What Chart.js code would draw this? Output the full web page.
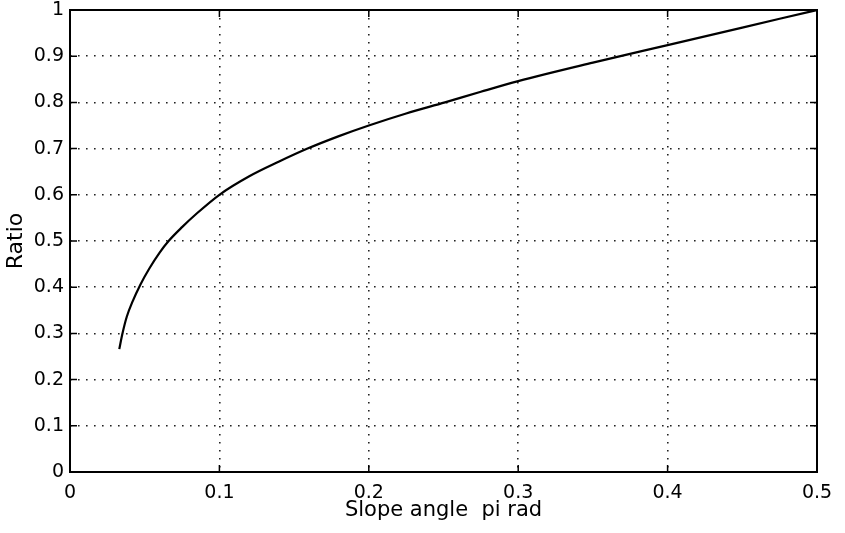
<!DOCTYPE html>
<html>
<head>
<meta charset="utf-8">
<script src="https://cdn.jsdelivr.net/npm/chart.js@4/dist/chart.umd.min.js"></script>
<style>
html,body{margin:0;padding:0;background:#fff;}
#wrap{width:845px;height:533px;}
</style>
</head>
<body>
<div id="wrap"><canvas id="c" width="845" height="533"></canvas></div>
<script>
const slopeAngle = [0.033, 0.035, 0.038, 0.042, 0.047, 0.053, 0.060, 0.066, 0.075, 0.085, 0.100, 0.120, 0.140, 0.159, 0.180, 0.200, 0.225, 0.251, 0.275, 0.300, 0.350, 0.400, 0.450, 0.500];
const ratio      = [0.266, 0.298, 0.336, 0.370, 0.405, 0.440, 0.475, 0.500, 0.530, 0.560, 0.600, 0.640, 0.672, 0.700, 0.727, 0.750, 0.776, 0.800, 0.823, 0.846, 0.886, 0.924, 0.962, 1.000];
const xTicks = [0, 0.1, 0.2, 0.3, 0.4, 0.5];
const yTicks = [0, 0.1, 0.2, 0.3, 0.4, 0.5, 0.6, 0.7, 0.8, 0.9, 1];
const xLabel = 'Slope angle  pi rad';
const yLabel = 'Ratio';

const FONT = '"DejaVu Sans", "Liberation Sans", Arial, sans-serif';

const boxPlugin = {
  id: 'boxTicks',
  afterDatasetsDraw(chart) {
    const {ctx, chartArea: a, scales} = chart;
    ctx.save();
    ctx.strokeStyle = '#000';
    ctx.lineWidth = 1.5;
    const L = 7;
    ctx.beginPath();
    xTicks.forEach(v => {
      const px = scales.x.getPixelForValue(v);
      ctx.moveTo(px, a.bottom); ctx.lineTo(px, a.bottom - L);
      ctx.moveTo(px, a.top); ctx.lineTo(px, a.top + L);
    });
    yTicks.forEach(v => {
      const py = scales.y.getPixelForValue(v);
      ctx.moveTo(a.left, py); ctx.lineTo(a.left + L, py);
      ctx.moveTo(a.right, py); ctx.lineTo(a.right - L, py);
    });
    ctx.stroke();
    ctx.lineWidth = 2;
    ctx.strokeRect(a.left, a.top, a.right - a.left, a.bottom - a.top);
    ctx.restore();
  }
};

new Chart(document.getElementById('c'), {
  type: 'line',
  data: {
    datasets: [{
      data: slopeAngle.map((x, i) => ({x: x, y: ratio[i]})),
      borderColor: '#000',
      borderWidth: 2.2,
      pointRadius: 0,
      cubicInterpolationMode: 'monotone',
      fill: false
    }]
  },
  options: {
    responsive: false,
    animation: false,
    layout: {padding: {left: 0, top: 10, right: 28, bottom: 0}},
    plugins: {legend: {display: false}, tooltip: {enabled: false}},
    scales: {
      x: {
        type: 'linear', min: 0, max: 0.5,
        afterBuildTicks(s) { s.ticks = xTicks.map(v => ({value: v})); },
        afterFit(s) { s.height = 61; s.paddingLeft = 0; s.paddingRight = 0; },
        grid: {color: '#222', lineWidth: 1.6, drawTicks: false},
        border: {display: false, dash: [1.6, 6.4]},
        ticks: {color: '#000', font: {family: FONT, size: 19}, padding: 10, maxRotation: 0,
                callback: v => String(v)},
        title: {display: true, text: xLabel, color: '#000', font: {family: FONT, size: 21, lineHeight: 1},
                padding: {top: 0, bottom: 12}}
      },
      y: {
        type: 'linear', min: 0, max: 1,
        afterBuildTicks(s) { s.ticks = yTicks.map(v => ({value: v})); },
        afterFit(s) { s.width = 70; s.paddingTop = 0; s.paddingBottom = 0; },
        grid: {color: '#222', lineWidth: 1.6, drawTicks: false},
        border: {display: false, dash: [1.6, 6.4]},
        ticks: {color: '#000', font: {family: FONT, size: 19}, padding: 6,
                callback: v => String(v)},
        title: {display: true, text: yLabel, color: '#000', font: {family: FONT, size: 22, lineHeight: 1},
                padding: {top: 5, bottom: 0}}
      }
    }
  },
  plugins: [boxPlugin]
});
</script>
</body>
</html>
